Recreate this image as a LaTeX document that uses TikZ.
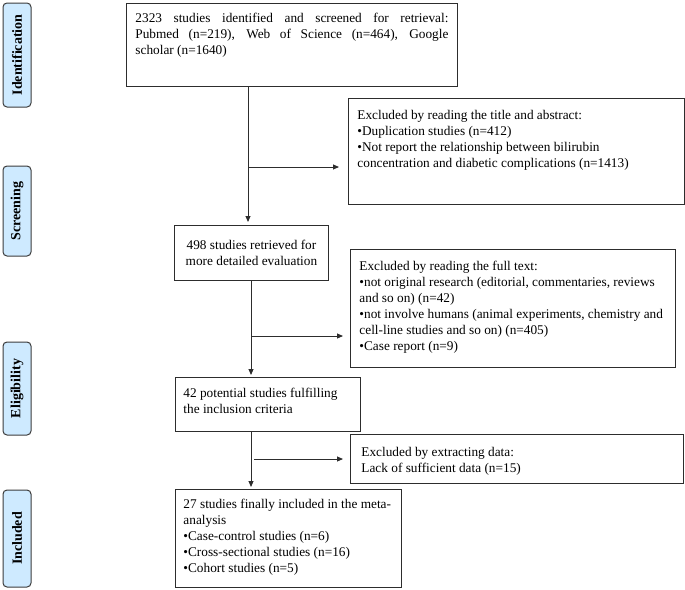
\documentclass[tikz,border=0pt]{standalone}
\usepackage{fontspec}
\setmainfont{Liberation Serif}
\usetikzlibrary{arrows.meta}
\definecolor{stagefill}{RGB}{206,234,255}
\definecolor{stageline}{RGB}{60,60,60}
\definecolor{boxline}{RGB}{45,45,45}
\begin{document}
\begin{tikzpicture}[x=1pt,y=-1pt,
  flowbox/.style={draw=boxline, line width=0.9pt, anchor=north west, inner ysep=0pt,
    font=\fontsize{13.3}{16}\selectfont},
  stage/.style={draw=stageline, fill=stagefill, rounded corners=4pt, line width=1pt,
    rotate=90, minimum height=28pt, inner sep=0pt,
    font=\fontsize{14}{16}\selectfont\bfseries},
  arr/.style={draw=boxline, line width=0.9pt, -{Triangle[length=6pt,width=5pt]}}]
\useasboundingbox (0,0) rectangle (685,589);

% stage labels
\node[stage, minimum width=104pt] (s1) at (17,55) {Identification};
\node[stage, minimum width=90pt] (s2) at (17,211) {Screening};
\node[stage, minimum width=93pt] (s3) at (17,388.5) {Eligibility};
\node[stage, minimum width=97pt] (s4) at (17,538.5) {Included};

% main boxes
\node[flowbox, inner xsep=9pt] (b1) at (126,3)
  {\parbox[c][83pt][t]{313pt}{\vspace*{9pt}\rule{0pt}{10pt}\makebox[313pt][s]{2323 studies identified and screened for retrieval:}\\
  \makebox[313pt][s]{Pubmed (n=219), Web of Science (n=464), Google}\\
  scholar (n=1640)}};

\node[flowbox, inner xsep=0pt, minimum width=154pt, minimum height=55pt, align=center] (b2) at (174,225)
  {498 studies retrieved for\\more detailed evaluation};

\node[flowbox, inner xsep=8pt] (b3) at (175,377)
  {\parbox[c][54pt][t]{169pt}{\vspace*{10pt}\rule{0pt}{10pt}42 potential studies fulfilling\\
  the inclusion criteria}};

\node[flowbox, inner xsep=8pt] (b4) at (175,489)
  {\parbox[c][98pt][t]{210pt}{\vspace*{9pt}\rule{0pt}{10pt}27 studies finally included in the meta-\\
  analysis\\
  •Case-control studies (n=6)\\
  •Cross-sectional studies (n=16)\\
  •Cohort studies (n=5)}};

% exclusion boxes
\node[flowbox, inner xsep=9pt] (e1) at (348,98)
  {\parbox[c][106pt][t]{318pt}{\vspace*{11pt}\rule{0pt}{10pt}Excluded by reading the title and abstract:\\
  •Duplication studies (n=412)\\
  •Not report the relationship between bilirubin\\
  concentration and diabetic complications (n=1413)}};

\node[flowbox, inner xsep=9pt] (e2) at (350,249)
  {\parbox[c][118pt][t]{307pt}{\vspace*{11pt}\rule{0pt}{10pt}Excluded by reading the full text:\\
  •not original research (editorial, commentaries, reviews\\
  and so on) (n=42)\\
  •not involve humans (animal experiments, chemistry and\\
  cell-line studies and so on) (n=405)\\
  •Case report (n=9)}};

\node[flowbox, inner xsep=11pt] (e3) at (350,434)
  {\parbox[c][49pt][t]{311pt}{\vspace*{12pt}\rule{0pt}{10pt}Excluded by extracting data:\\
  Lack of sufficient data (n=15)}};

% connectors
\coordinate (cx1) at (248,0);
\coordinate (cx2) at (251,0);
\coordinate (h1) at (248,167);
\coordinate (h2) at (251,336);
\coordinate (h3) at (254,459);

\draw[arr, shorten >=3pt] (b1.south -| cx1) -- (b2.north -| cx1);
\draw[arr, shorten >=9pt] (h1) -- (h1 -| e1.west);
\draw[arr, shorten >=2pt] (b2.south -| cx2) -- (b3.north -| cx2);
\draw[arr, shorten >=7pt] (h2) -- (h2 -| e2.west);
\draw[arr, shorten >=2pt] (b3.south -| cx2) -- (b4.north -| cx2);
\draw[arr, shorten >=7pt] (h3) -- (h3 -| e3.west);
\end{tikzpicture}
\end{document}
